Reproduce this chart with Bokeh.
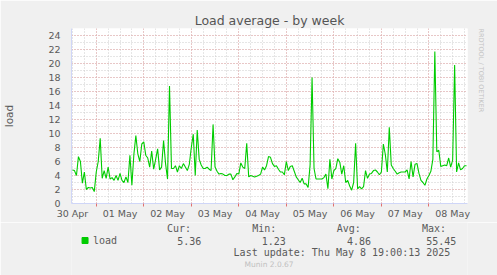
from bokeh.plotting import figure
from bokeh.models import FixedTicker, Title, Range1d
from bokeh.layouts import column
from bokeh.core.properties import value
from bokeh.embed import file_html
from bokeh.resources import INLINE

# ---- data (hourly samples, starting 30 Apr 12:00, hours since 30 Apr 00:00) ----
start_hour = 12
load = [
    4.8, 4.7, 4.0, 6.7, 6.0, 2.9, 4.5, 2.0, 2.3, 2.2,
    2.3, 1.7, 4.5, 6.0, 9.3, 3.6, 4.7, 3.6, 5.2, 3.5,
    3.7, 3.3, 4.0, 3.3, 4.3, 3.3, 3.0, 3.8, 3.0, 6.9,
    2.6, 7.0, 9.7, 7.1, 6.0, 8.5, 8.8, 6.9, 6.5, 5.2,
    7.5, 4.9, 6.3, 7.8, 4.8, 5.2, 9.0, 5.7, 3.5, 16.8,
    5.0, 5.0, 5.4, 4.5, 5.4, 5.0, 5.7, 5.2, 4.7, 5.6,
    8.0, 9.9, 4.0, 10.5, 6.3, 5.5, 5.0, 5.0, 5.2, 4.9,
    4.7, 11.3, 5.2, 4.6, 4.2, 4.3, 4.2, 4.0, 4.0, 4.2,
    4.2, 3.4, 3.8, 4.3, 4.2, 5.8, 5.2, 5.0, 8.6, 3.8,
    4.0, 3.9, 3.8, 3.9, 4.0, 4.2, 5.2, 4.8, 5.4, 6.7,
    6.6, 5.7, 5.3, 5.4, 4.9, 4.5, 4.5, 4.1, 6.0, 4.7,
    5.3, 5.4, 4.6, 3.8, 3.4, 3.0, 3.6, 2.8, 2.8, 2.3,
    5.5, 18.0, 5.0, 3.5, 3.5, 3.5, 3.5, 3.7, 4.2, 2.1,
    6.3, 3.5, 4.7, 5.0, 6.4, 5.9, 4.2, 5.4, 3.0, 3.3,
    2.5, 1.9, 3.0, 8.6, 2.1, 2.4, 2.1, 2.4, 4.7, 3.6,
    4.2, 4.3, 4.7, 4.8, 4.5, 4.1, 4.5, 8.5, 7.0, 4.5,
    10.9, 5.5, 5.0, 4.6, 4.2, 4.4, 4.5, 4.5, 4.5, 4.8,
    3.5, 6.0, 3.8, 5.6, 5.7, 4.3, 3.3, 3.0, 2.6, 3.5,
    4.0, 4.6, 6.3, 21.7, 7.4, 7.6, 5.3, 5.4, 5.5, 5.4,
    6.5, 5.2, 6.2, 19.8, 4.5, 5.8, 4.8, 5.0, 5.4, 5.4,
]
hours = [start_hour + i for i in range(len(load))]

day_labels = ["30 Apr", "01 May", "02 May", "03 May", "04 May",
              "05 May", "06 May", "07 May", "08 May"]
y_ticks = [0, 2, 4, 6, 8, 10, 12, 14, 16, 18, 20, 22, 24]

stat_names = ["Cur:", "Min:", "Avg:", "Max:"]
stat_values = ["5.36", "1.23", "4.86", "55.45"]
series_name = "load"
last_update = "Last update: Thu May  8 19:00:13 2025"
title_text = "Load average - by week"
y_label = "load"
credit = "RRDTOOL / TOBI OETIKER"
footer = "Munin 2.0.67"

# ---- derived ticks ----
noon_ticks = [12 + 24 * i for i in range(len(day_labels))]
midnights = [24 * (i + 1) for i in range(len(day_labels))]
six_hours = [6 * k for k in range(1, 36)]

FONT = "#5a5a5a"
AXIS = "#CFD6F8"
GREEN = "#00cc00"
BACK = "#f0f0f0"
W = 497
FRAME_BOTTOM = 203
TOP_H = 222          # chart part height
LEG_H = 275 - TOP_H  # legend part height

p = figure(width=W, height=TOP_H, output_backend="svg", toolbar_location=None,
           x_range=(11.5, 211.5), y_range=(0, 25),
           min_border_left=67, min_border_right=30,
           min_border_top=28, min_border_bottom=TOP_H - FRAME_BOTTOM)
p.background_fill_color = "#ffffff"
p.border_fill_color = BACK
p.outline_line_color = None

p.title = Title(text=title_text, align="center", text_font="DejaVu Sans",
                text_font_size="12.5px", text_font_style="normal",
                text_color="#555555", standoff=1)
p.add_layout(Title(text=credit, align="left", text_font="DejaVu Sans",
                   text_font_size="6.5px", text_font_style="normal",
                   text_color="#c4c4c4", standoff=18), "right")

# x axis
p.xaxis.ticker = FixedTicker(ticks=noon_ticks, minor_ticks=midnights)
p.xaxis.major_label_overrides = {t: l for t, l in zip(noon_ticks, day_labels)}
p.xaxis.major_tick_line_color = None
p.xaxis.major_tick_out = 0
p.xaxis.major_tick_in = 0
p.xaxis.minor_tick_line_color = "#e07070"
p.xaxis.minor_tick_out = 3
p.xaxis.minor_tick_in = 0
p.xaxis.axis_line_color = AXIS
p.xaxis.major_label_standoff = 1
p.xaxis.major_label_text_font = "DejaVu Sans"
p.xaxis.major_label_text_font_size = "9.5px"
p.xaxis.major_label_text_color = FONT

# y axis
p.yaxis.ticker = FixedTicker(ticks=y_ticks, minor_ticks=list(range(1, 26)))
p.yaxis.major_tick_line_color = None
p.yaxis.minor_tick_line_color = None
p.yaxis.major_tick_out = 0
p.yaxis.major_tick_in = 0
p.yaxis.axis_line_color = AXIS
p.yaxis.major_label_standoff = 7
p.yaxis.major_label_text_font = "DejaVu Sans"
p.yaxis.major_label_text_font_size = "9.5px"
p.yaxis.major_label_text_color = FONT
p.yaxis.axis_label = y_label
p.yaxis.axis_label_text_font = "DejaVu Sans"
p.yaxis.axis_label_text_font_size = "10.5px"
p.yaxis.axis_label_text_font_style = "normal"
p.yaxis.axis_label_text_color = FONT
p.yaxis.axis_label_standoff = 30

# grids
p.xgrid.ticker = FixedTicker(ticks=midnights, minor_ticks=six_hours)
p.xgrid.grid_line_color = "#eaa8a8"
p.xgrid.grid_line_dash = "1 2"
p.xgrid.minor_grid_line_color = "#cccccc"
p.xgrid.minor_grid_line_dash = "1 2"
p.ygrid.ticker = FixedTicker(ticks=y_ticks, minor_ticks=list(range(1, 26)))
p.ygrid.grid_line_color = "#eaa8a8"
p.ygrid.grid_line_dash = "1 2"
p.ygrid.minor_grid_line_color = "#cccccc"
p.ygrid.minor_grid_line_dash = "1 2"

# data line
p.line(hours, load, line_color=GREEN, line_width=1.1)

# ---- legend strip (coordinates = page pixels) ----
q = figure(width=W, height=LEG_H, output_backend="svg", toolbar_location=None,
           x_range=Range1d(0, W), y_range=Range1d(275, TOP_H),
           x_axis_type=None, y_axis_type=None,
           min_border_left=0, min_border_right=0, min_border_top=0, min_border_bottom=0)
q.background_fill_color = BACK
q.border_fill_color = BACK
q.outline_line_color = None
q.grid.visible = False

mono = value("DejaVu Sans Mono")
q.text(x=[150, 257, 363, 470], y=[228] * 4, text=stat_names,
       text_font=mono, text_font_size="10px", text_color=FONT,
       text_align="right", text_baseline="middle")
q.text(x=[163, 269, 376, 483], y=[240] * 4, text=stat_values,
       text_font=mono, text_font_size="10px", text_color=FONT,
       text_align="right", text_baseline="middle")
q.scatter(x=[17], y=[240], marker="square", size=6, fill_color=GREEN, line_color=GREEN)
q.text(x=[27], y=[240], text=[series_name],
       text_font=mono, text_font_size="10px", text_color=FONT,
       text_align="left", text_baseline="middle")
q.text(x=[483], y=[252], text=[last_update],
       text_font=mono, text_font_size="10px", text_color=FONT,
       text_align="right", text_baseline="middle")
q.text(x=[248], y=[264], text=[footer],
       text_font=value("DejaVu Sans"), text_font_size="7.5px", text_color="#c0c0c0",
       text_align="center", text_baseline="middle")

layout = column(p, q, spacing=0)
open("out.html", "w").write(file_html(layout, INLINE))
